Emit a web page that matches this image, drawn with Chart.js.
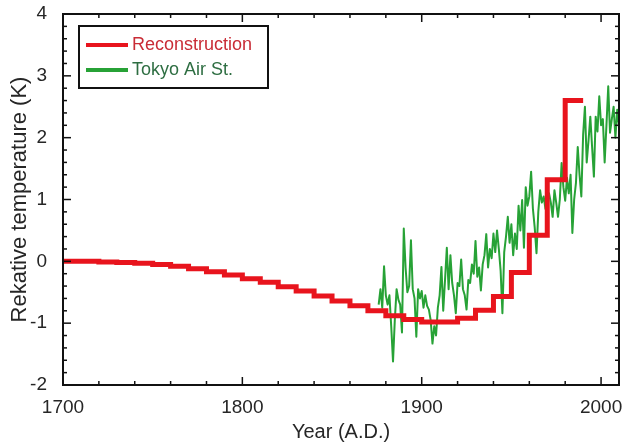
<!DOCTYPE html>
<html>
<head>
<meta charset="utf-8">
<title>Reconstruction vs Tokyo Air St.</title>
<script src="https://cdn.jsdelivr.net/npm/chart.js@4.4.1/dist/chart.umd.min.js"></script>
<style>
  html, body { margin: 0; padding: 0; background: #fff; }
  #wrap { width: 632px; height: 446px; }
</style>
</head>
<body>
<div id="wrap"><canvas id="tempChart" width="632" height="446"></canvas></div>
<script>
// Reconstruction: decadal steps, each value holds until the next year
const reconYears = [1700, 1710, 1720, 1730, 1740, 1750, 1760, 1770, 1780, 1790,
                    1800, 1810, 1820, 1830, 1840, 1850, 1860, 1870, 1880, 1890,
                    1900, 1910, 1920, 1930, 1940, 1950, 1960, 1970, 1980, 1990];
const reconValues = [0.00, 0.00, -0.01, -0.02, -0.03, -0.05, -0.08, -0.12, -0.17, -0.22,
                     -0.28, -0.34, -0.41, -0.48, -0.56, -0.64, -0.72, -0.80, -0.88, -0.94,
                     -0.98, -0.98, -0.92, -0.79, -0.57, -0.18, 0.42, 1.32, 2.60, 2.60];

// Tokyo Air St. yearly values, first year 1876
const tokyoFirstYear = 1876;
const tokyoValues = [
  -0.70, -0.45, -0.75, -0.08,                                       // 1876-1879
  -0.55, -0.70, -0.55, -1.05, -1.62, -0.95, -0.45, -0.62, -0.70, -1.15, // 1880s
  0.53, -0.10, -0.50, -0.40, 0.34, -0.45, -0.60, -1.22, -0.45, -0.60,  // 1890s
  -0.48, -0.75, -0.55, -0.72, -0.78, -0.95, -1.33, -1.05, -1.20, -0.75, // 1900s
  -0.55, -0.09, -0.80, -0.30, 0.22, -0.45, 0.10, -0.35, -0.55, -0.84,  // 1910s
  -0.35, -0.40, 0.03, -0.45, -0.55, -0.78, -0.30, -0.35, -0.05, -0.20, // 1920s
  0.33, -0.25, -0.10, -0.47, -0.05, 0.10, 0.44, -0.10, 0.20, 0.05,     // 1930s
  0.45, 0.15, 0.50, 0.20, -0.15, -0.84, 0.15, 0.40, 0.72, 0.30,        // 1940s
  0.60, 0.10, 0.45, 0.20, 0.90, 0.50, 0.99, 0.22, 1.20, 0.90,          // 1950s
  1.05, 1.45, 0.85, 0.55, 0.13, 0.80, 1.15, 0.95, 1.05, 0.85,          // 1960s
  1.05, 1.10, 0.95, 0.72, 1.15, 0.95, 0.72, 1.00, 1.59, 1.20,          // 1970s
  0.98, 1.35, 1.10, 1.40, 0.46, 1.00, 1.27, 1.85, 1.40, 1.05,          // 1980s
  2.05, 2.50, 1.60, 1.95, 2.34, 1.85, 1.37, 2.34, 2.10, 2.67,          // 1990s
  2.20, 2.30, 1.60, 2.20, 2.83, 2.08, 2.30, 2.50, 2.00, 2.45,          // 2000s
  2.20                                                               // 2010
];

const yearTicks = [1700, 1800, 1900, 2000];
const tempTicks = [-2, -1, 0, 1, 2, 3, 4];

const FONT = '"Liberation Sans", Arial, Helvetica, sans-serif';
const RED = '#e8141d';
const GREEN = '#27a236';

// Box frame, inward ticks and boxed legend (as in the original figure)
const frameAndLegend = {
    id: 'frameAndLegend',
    afterDatasetsDraw(chart) {
        const ctx = chart.ctx;
        const a = chart.chartArea;
        const x = chart.scales.x;
        const y = chart.scales.y;

        function seg(x1, y1, x2, y2) {
            ctx.beginPath();
            ctx.moveTo(x1, y1);
            ctx.lineTo(x2, y2);
            ctx.stroke();
        }

        ctx.save();
        ctx.strokeStyle = '#111';
        ctx.lineWidth = 1.5;

        // year ticks every 20 years, longer on the labelled ones
        for (let v = 1700; v <= x.max; v += 20) {
            const px = x.getPixelForValue(v);
            const len = yearTicks.includes(v) ? 8 : 4;
            seg(px, a.bottom, px, a.bottom - len);
            seg(px, a.top, px, a.top + len);
        }
        // temperature ticks every 0.2 K
        for (let i = 0; i <= 30; i++) {
            const v = -2 + i * 0.2;
            const py = y.getPixelForValue(v);
            const len = i % 5 === 0 ? 8 : 4;
            seg(a.left, py, a.left + len, py);
            seg(a.right, py, a.right - len, py);
        }

        ctx.lineWidth = 2;
        ctx.strokeRect(a.left, a.top, a.right - a.left, a.bottom - a.top);

        // legend
        const lx = a.left + 16, ly = a.top + 12, lw = 189, lh = 62;
        ctx.fillStyle = '#fff';
        ctx.fillRect(lx, ly, lw, lh);
        ctx.strokeRect(lx, ly, lw, lh);
        ctx.font = '18px ' + FONT;
        ctx.textBaseline = 'middle';
        ctx.textAlign = 'left';
        const textColors = ['#c92c36', '#2e6e42'];
        chart.data.datasets.forEach((ds, i) => {
            const rowY = ly + 19 + i * 25;
            ctx.strokeStyle = ds.borderColor;
            ctx.lineWidth = 4;
            seg(lx + 7, rowY, lx + 49, rowY);
            ctx.fillStyle = textColors[i];
            ctx.fillText(ds.label, lx + 53, rowY);
        });
        ctx.restore();
    }
};

const ctx = document.getElementById('tempChart').getContext('2d');
new Chart(ctx, {
    type: 'line',
    data: {
        datasets: [{
            label: 'Reconstruction',
            data: reconYears.map((yr, i) => ({ x: yr, y: reconValues[i] })),
            borderColor: RED,
            borderWidth: 5,
            stepped: 'before',
            pointRadius: 0,
            fill: false
        }, {
            label: 'Tokyo Air St.',
            data: tokyoValues.map((v, i) => ({ x: tokyoFirstYear + i, y: v })),
            borderColor: GREEN,
            borderWidth: 2,
            borderJoinStyle: 'round',
            tension: 0,
            pointRadius: 0,
            fill: false
        }]
    },
    options: {
        responsive: false,
        devicePixelRatio: 1,
        animation: false,
        layout: { padding: { top: 14, right: 13, left: 0, bottom: 0 } },
        plugins: {
            legend: { display: false },
            tooltip: { enabled: false }
        },
        scales: {
            x: {
                type: 'linear',
                min: 1700,
                max: 2010,
                grid: { display: false },
                border: { display: false },
                afterBuildTicks: scale => { scale.ticks = yearTicks.map(v => ({ value: v })); },
                afterFit: scale => {
                    scale.height = 61;
                    scale.paddingLeft = 0;
                    scale.paddingRight = 0;
                },
                ticks: {
                    padding: 3,
                    color: '#262626',
                    font: { family: FONT, size: 19 },
                    maxRotation: 0,
                    callback: v => String(v)
                },
                title: {
                    display: true,
                    text: 'Year (A.D.)',
                    color: '#262626',
                    font: { family: FONT, size: 20 },
                    padding: { top: 0, bottom: 2 }
                }
            },
            y: {
                min: -2,
                max: 4,
                grid: { display: false },
                border: { display: false },
                afterBuildTicks: scale => { scale.ticks = tempTicks.map(v => ({ value: v })); },
                afterFit: scale => {
                    scale.width = 63;
                    scale.paddingTop = 0;
                    scale.paddingBottom = 0;
                },
                ticks: {
                    padding: 8,
                    color: '#262626',
                    font: { family: FONT, size: 19 },
                    callback: v => String(v)
                },
                title: {
                    display: true,
                    text: 'Rekative temperature (K)',
                    color: '#262626',
                    font: { family: FONT, size: 22 },
                    padding: { top: 7, bottom: 0 }
                }
            }
        }
    },
    plugins: [frameAndLegend]
});
</script>
</body>
</html>
